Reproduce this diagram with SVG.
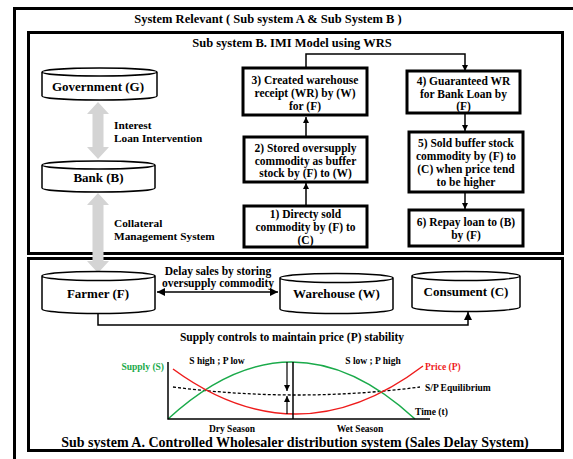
<svg xmlns="http://www.w3.org/2000/svg" width="573" height="459" viewBox="0 0 573 459">
  <defs>
    <marker id="tri" viewBox="0 0 10 10" refX="10" refY="5" markerWidth="6" markerHeight="6" markerUnits="userSpaceOnUse" orient="auto-start-reverse">
      <path d="M0,0 L10,5 L0,10 z" fill="#000"/>
    </marker>
    <marker id="tri-big" viewBox="0 0 10 10" refX="10" refY="5" markerWidth="8" markerHeight="8" markerUnits="userSpaceOnUse" orient="auto-start-reverse">
      <path d="M0,0 L10,5 L0,10 z" fill="#000"/>
    </marker>
  </defs>
  <style>
    text { font-family: "Liberation Serif", "Times New Roman", serif; font-weight: bold; fill: #000; text-anchor: middle; }
    .title { font-size: 12.5px; }
    .big { font-size: 14px; }
    .cyl-label { font-size: 13px; }
    .box-label { font-size: 11.5px; }
    .note { font-size: 11.3px; text-anchor: start; }
    .chart { font-size: 9.5px; }
    .frame { fill: none; stroke: #000; stroke-width: 3; }
    .box { fill: #fff; stroke: #000; stroke-width: 3; }
    .cyl { fill: #fff; stroke: #000; stroke-width: 1.5; }
    .wire { fill: none; stroke: #000; stroke-width: 1.5; }
    .gray-arrow { fill: #d4d4d4; stroke: none; }
  </style>

  <rect width="573" height="459" fill="#fff"/>

  <!-- outer and sub-system frames -->
  <g id="frames">
    <rect class="frame" x="14.5" y="8.5" width="600" height="470"/>
    <rect class="frame" x="28.5" y="32.5" width="534" height="221"/>
    <rect class="frame" x="28.5" y="258.5" width="534" height="192"/>
    <text class="title" x="268" y="23">System Relevant ( Sub system A &amp; Sub System B )</text>
    <text class="title" x="292" y="47">Sub system B. IMI Model using WRS</text>
    <text class="big" x="295" y="447">Sub system A. Controlled Wholesaler distribution system (Sales Delay System)</text>
  </g>

  <!-- connectors -->
  <g id="connectors">
    <!-- Government <-> Bank -->
    <polygon class="gray-arrow" points="98,102 109,114 103.5,114 103.5,147 109,147 98,159 87,147 92.5,147 92.5,114 87,114"/>
    <!-- Bank <-> Farmer -->
    <polygon class="gray-arrow" points="98,193 109,205 103.5,205 103.5,261 109,261 98,273 87,261 92.5,261 92.5,205 87,205"/>
    <!-- flow 1 -> 2 -> 3 -->
    <line class="wire" x1="306" y1="206" x2="306" y2="183" marker-end="url(#tri)"/>
    <line class="wire" x1="306" y1="137" x2="306" y2="117" marker-end="url(#tri)"/>
    <!-- 3 -> 4 -->
    <polyline class="wire" points="306,67 306,54 465,54 465,71" marker-end="url(#tri)"/>
    <!-- 4 -> 5 -> 6 -->
    <line class="wire" x1="465" y1="113" x2="465" y2="131" marker-end="url(#tri)"/>
    <line class="wire" x1="465" y1="193" x2="465" y2="209" marker-end="url(#tri)"/>
    <!-- Farmer <-> Warehouse -->
    <line class="wire" x1="157" y1="292" x2="278" y2="292" marker-start="url(#tri-big)" marker-end="url(#tri-big)"/>
    <!-- Farmer -> Consument -->
    <polyline class="wire" points="98,314 98,325 468,325 468,312" marker-end="url(#tri-big)"/>
  </g>

  <text class="note" x="114" y="129">Interest</text>
  <text class="note" x="114" y="142">Loan Intervention</text>
  <text class="note" x="114" y="227">Collateral</text>
  <text class="note" x="114" y="240">Management System</text>
  <text class="box-label" x="218" y="275">Delay sales by storing</text>
  <text class="box-label" x="218" y="287">oversupply commodity</text>
  <text class="box-label" x="292" y="341">Supply controls to maintain price (P) stability</text>

  <!-- cylinders -->
  <g id="government">
    <path class="cyl" d="M42,72 A57.5,4 0 0 1 157,72 A57.5,4 0 0 1 42,72 M42,72 L42,96 A57.5,4 0 0 0 157,96 L157,72"/>
    <text class="cyl-label" x="98" y="91">Government (G)</text>
  </g>
  <g id="bank">
    <path class="cyl" d="M42,165 A56.5,4 0 0 1 155,165 A56.5,4 0 0 1 42,165 M42,165 L42,188 A56.5,4 0 0 0 155,188 L155,165"/>
    <text class="cyl-label" x="98.5" y="182">Bank (B)</text>
  </g>
  <g id="farmer">
    <path class="cyl" d="M42,276 A56.5,4.5 0 0 1 155,276 A56.5,4.5 0 0 1 42,276 M42,276 L42,309 A56.5,4.5 0 0 0 155,309 L155,276"/>
    <text class="cyl-label" x="98" y="298">Farmer (F)</text>
  </g>
  <g id="warehouse">
    <path class="cyl" d="M280,278 A56.5,4.5 0 0 1 393,278 A56.5,4.5 0 0 1 280,278 M280,278 L280,309 A56.5,4.5 0 0 0 393,309 L393,278"/>
    <text class="cyl-label" x="336.5" y="298">Warehouse (W)</text>
  </g>
  <g id="consument">
    <path class="cyl" d="M412,276 A54,4.5 0 0 1 520,276 A54,4.5 0 0 1 412,276 M412,276 L412,307 A54,4.5 0 0 0 520,307 L520,276"/>
    <text class="cyl-label" x="466" y="296">Consument (C)</text>
  </g>

  <!-- process boxes -->
  <g id="step1">
    <rect class="box" x="244" y="206" width="123" height="41"/>
    <text class="box-label" x="305.5" y="218">1) Directy sold</text>
    <text class="box-label" x="305.5" y="231">commodity by (F) to</text>
    <text class="box-label" x="305.5" y="244">(C)</text>
  </g>
  <g id="step2">
    <rect class="box" x="244" y="137" width="123" height="45"/>
    <text class="box-label" x="305.5" y="152">2) Stored oversupply</text>
    <text class="box-label" x="305.5" y="165">commodity as buffer</text>
    <text class="box-label" x="305.5" y="177">stock by (F) to (W)</text>
  </g>
  <g id="step3">
    <rect class="box" x="243" y="68" width="124" height="47"/>
    <text class="box-label" x="305" y="84">3) Created warehouse</text>
    <text class="box-label" x="305" y="97">receipt (WR) by (W)</text>
    <text class="box-label" x="305" y="110">for (F)</text>
  </g>
  <g id="step4">
    <rect class="box" x="407" y="71" width="113" height="42"/>
    <text class="box-label" x="463.5" y="85">4) Guaranteed WR</text>
    <text class="box-label" x="463.5" y="98">for Bank Loan by</text>
    <text class="box-label" x="463.5" y="110">(F)</text>
  </g>
  <g id="step5">
    <rect class="box" x="409" y="132" width="114" height="60"/>
    <text class="box-label" x="466" y="147">5) Sold buffer stock</text>
    <text class="box-label" x="466" y="160">commodity by (F) to</text>
    <text class="box-label" x="466" y="173">(C) when price tend</text>
    <text class="box-label" x="466" y="186">to be higher</text>
  </g>
  <g id="step6">
    <rect class="box" x="409" y="210" width="114" height="36"/>
    <text class="box-label" x="466" y="226">6) Repay loan to (B)</text>
    <text class="box-label" x="466" y="239">by (F)</text>
  </g>

  <!-- supply / price chart -->
  <g id="chart">
    <path d="M173,387 Q298,403 420,387" fill="none" stroke="#000" stroke-width="1.3" stroke-dasharray="3,2"/>
    <path d="M168,419 Q291.5,305 415,419" fill="none" stroke="#1aaa4a" stroke-width="1.5"/>
    <path d="M173,369 Q298,460.5 423,366" fill="none" stroke="#ee1c1c" stroke-width="1.5"/>
    <polyline points="168,362 168,419 430,419" fill="none" stroke="#000" stroke-width="1.5"/>
    <line x1="293" y1="362" x2="293" y2="419" stroke="#000" stroke-width="1.5"/>
    <line x1="287" y1="362" x2="287" y2="391" stroke="#000" stroke-width="1.2" marker-end="url(#tri)"/>
    <line x1="287" y1="414" x2="287" y2="396" stroke="#000" stroke-width="1.2" marker-end="url(#tri)"/>
    <text class="chart" x="164" y="370" style="text-anchor:end; fill:#1aaa4a">Supply (S)</text>
    <text class="chart" x="425" y="370" style="text-anchor:start; fill:#ee1c1c">Price (P)</text>
    <text class="chart" x="217" y="364">S high ; P low</text>
    <text class="chart" x="373" y="364">S low ; P high</text>
    <text class="chart" x="425" y="391" style="text-anchor:start">S/P Equilibrium</text>
    <text class="chart" x="415" y="415" style="text-anchor:start">Time (t)</text>
    <text class="chart" x="232" y="432">Dry Season</text>
    <text class="chart" x="360" y="432">Wet Season</text>
  </g>
</svg>
